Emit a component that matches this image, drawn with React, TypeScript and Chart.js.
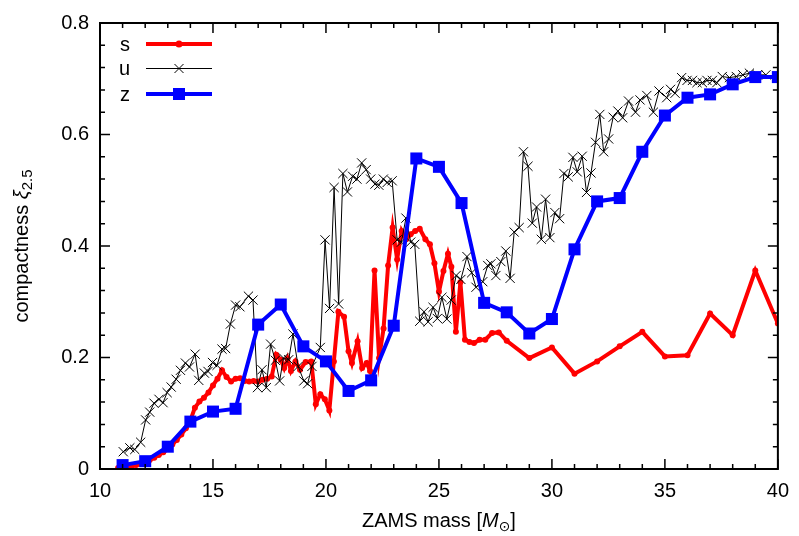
import React, { useEffect, useRef } from "react";
import { Chart, registerables } from "chart.js";

Chart.register(...registerables);

// ---------- data ----------
const sMass = [10.8, 11.0, 11.2, 11.4, 11.6, 11.8, 12.0, 12.2, 12.4, 12.6, 12.8, 13.0, 13.2, 13.4, 13.6, 13.8, 14.0, 14.2, 14.4, 14.6, 14.8, 15.0, 15.2, 15.4, 15.6, 15.8, 16.0, 16.2, 16.4, 16.6, 16.8, 17.0, 17.2, 17.4, 17.6, 17.8, 18.0, 18.15, 18.3, 18.45, 18.65, 18.85, 19.1, 19.35, 19.55, 19.75, 19.95, 20.15, 20.35, 20.55, 20.8, 21.0, 21.15, 21.4, 21.6, 21.8, 21.95, 22.15, 22.35, 22.55, 22.75, 22.95, 23.15, 23.35, 23.55, 23.75, 23.95, 24.15, 24.4, 24.6, 24.8, 25.0, 25.2, 25.4, 25.55, 25.75, 25.95, 26.15, 26.35, 26.55, 26.8, 27.05, 27.35, 27.65, 28, 29, 30, 31, 32, 33, 34, 35, 36, 37, 38, 39, 40];
const sXi = [0.002, 0.003, 0.004, 0.005, 0.007, 0.009, 0.012, 0.016, 0.02, 0.025, 0.03, 0.036, 0.044, 0.052, 0.062, 0.073, 0.087, 0.11, 0.121, 0.128, 0.137, 0.15, 0.162, 0.177, 0.165, 0.157, 0.162, 0.163, 0.158, 0.157, 0.158, 0.157, 0.16, 0.162, 0.166, 0.205, 0.196, 0.181, 0.198, 0.176, 0.193, 0.178, 0.192, 0.193, 0.116, 0.134, 0.125, 0.105, 0.193, 0.282, 0.273, 0.211, 0.19, 0.229, 0.181, 0.19, 0.176, 0.356, 0.199, 0.252, 0.365, 0.433, 0.376, 0.427, 0.412, 0.421, 0.427, 0.431, 0.412, 0.403, 0.369, 0.318, 0.355, 0.386, 0.363, 0.246, 0.335, 0.232, 0.228, 0.226, 0.232, 0.232, 0.244, 0.245, 0.23, 0.199, 0.218, 0.171, 0.193, 0.22, 0.246, 0.202, 0.204, 0.279, 0.24, 0.356, 0.261];

const uMass = [11.03, 11.32, 11.54, 11.8, 12.02, 12.2, 12.39, 12.61, 12.79, 12.97, 13.15, 13.37, 13.56, 13.78, 13.96, 14.21, 14.37, 14.62, 14.78, 14.98, 15.18, 15.4, 15.56, 15.77, 16.0, 16.19, 16.57, 16.77, 16.97, 17.17, 17.36, 17.55, 17.76, 17.95, 18.12, 18.35, 18.54, 18.77, 19.02, 19.19, 19.38, 19.75, 19.96, 20.16, 20.36, 20.56, 20.75, 20.95, 21.18, 21.37, 21.58, 21.78, 21.98, 22.17, 22.34, 22.54, 22.71, 22.93, 23.15, 23.34, 23.54, 23.75, 23.93, 24.15, 24.34, 24.52, 24.74, 24.93, 25.13, 25.35, 25.54, 25.76, 25.97, 26.24, 26.45, 26.64, 26.94, 27.16, 27.3, 27.52, 27.74, 27.96, 28.15, 28.33, 28.55, 28.74, 28.94, 29.13, 29.32, 29.53, 29.72, 29.91, 30.13, 30.34, 30.53, 30.72, 30.93, 31.12, 31.34, 31.53, 31.73, 31.93, 32.12, 32.29, 32.51, 32.71, 32.92, 33.13, 33.39, 33.7, 33.9, 34.2, 34.49, 34.74, 35.08, 35.25, 35.45, 35.74, 35.98, 36.22, 36.42, 36.66, 36.86, 37.1, 37.3, 37.54, 37.86, 38.16, 38.45, 38.74, 39.1, 39.47];
const uXi = [0.031, 0.038, 0.035, 0.048, 0.088, 0.102, 0.118, 0.125, 0.119, 0.137, 0.147, 0.161, 0.177, 0.19, 0.183, 0.206, 0.159, 0.172, 0.175, 0.191, 0.186, 0.215, 0.216, 0.26, 0.294, 0.291, 0.31, 0.303, 0.146, 0.178, 0.146, 0.224, 0.195, 0.158, 0.199, 0.196, 0.242, 0.184, 0.158, 0.153, 0.184, 0.218, 0.411, 0.288, 0.505, 0.296, 0.53, 0.497, 0.525, 0.52, 0.549, 0.537, 0.52, 0.511, 0.509, 0.52, 0.514, 0.517, 0.411, 0.407, 0.45, 0.407, 0.403, 0.265, 0.282, 0.264, 0.29, 0.27, 0.308, 0.269, 0.303, 0.347, 0.34, 0.381, 0.352, 0.326, 0.336, 0.365, 0.368, 0.347, 0.372, 0.391, 0.342, 0.425, 0.433, 0.569, 0.543, 0.441, 0.47, 0.412, 0.484, 0.415, 0.46, 0.449, 0.53, 0.524, 0.559, 0.533, 0.561, 0.496, 0.531, 0.586, 0.636, 0.569, 0.592, 0.631, 0.642, 0.63, 0.66, 0.64, 0.662, 0.67, 0.64, 0.678, 0.666, 0.681, 0.674, 0.702, 0.697, 0.697, 0.693, 0.693, 0.697, 0.697, 0.693, 0.704, 0.702, 0.704, 0.707, 0.71, 0.707, 0.707];

const zMass = [11, 12, 13, 14, 15, 16, 17, 18, 19, 20, 21, 22, 23, 24, 25, 26, 27, 28, 29, 30, 31, 32, 33, 34, 35, 36, 37, 38, 39, 40];
const zXi = [0.007, 0.014, 0.04, 0.085, 0.103, 0.108, 0.259, 0.295, 0.22, 0.193, 0.14, 0.159, 0.257, 0.557, 0.542, 0.477, 0.298, 0.281, 0.243, 0.269, 0.394, 0.48, 0.486, 0.569, 0.634, 0.666, 0.672, 0.69, 0.703, 0.703];

const seriesNames = ["s", "u", "z"];
const seriesColors = ["#ff0000", "#000000", "#0000ff"];
const xMajorTicks = [10, 15, 20, 25, 30, 35, 40];
const yMajorTicks = [0, 0.2, 0.4, 0.6, 0.8];
const xTitleParts = ["ZAMS mass [", "M", "\u2299", "]"];
const yTitleParts = ["compactness ", "\u03BE", "2.5"];

const FONT = "'Liberation Sans', Arial, Helvetica, sans-serif";
const FS = 20;

const toPoints = (xs: number[], ys: number[]) => xs.map((x, i) => ({ x, y: ys[i] }));

type Part = { text: string; font: string; dy: number };

function drawRich(ctx: CanvasRenderingContext2D, parts: Part[], cx: number, cy: number) {
  let total = 0;
  const widths = parts.map((p) => {
    ctx.font = p.font;
    const w = ctx.measureText(p.text).width;
    total += w;
    return w;
  });
  let x = cx - total / 2;
  ctx.textAlign = "left";
  ctx.textBaseline = "middle";
  parts.forEach((p, i) => {
    ctx.font = p.font;
    ctx.fillText(p.text, x, cy + p.dy);
    x += widths[i];
  });
}

const framePlugin = {
  id: "framePlugin",
  afterDatasetsDraw(chart: any) {
    const { ctx, chartArea, scales } = chart;
    const { left, right, top, bottom } = chartArea;
    const xs = scales.x;
    const ys = scales.y;
    ctx.save();
    ctx.strokeStyle = "#000";
    ctx.lineWidth = 1.5;
    ctx.beginPath();
    for (let v = 10; v <= 40; v += 1) {
      const px = xs.getPixelForValue(v);
      const L = v % 5 === 0 ? 10 : 5;
      ctx.moveTo(px, bottom);
      ctx.lineTo(px, bottom - L);
      ctx.moveTo(px, top);
      ctx.lineTo(px, top + L);
    }
    for (let i = 0; i <= 20; i++) {
      const py = ys.getPixelForValue(i * 0.04);
      const L = i % 5 === 0 ? 10 : 5;
      ctx.moveTo(left, py);
      ctx.lineTo(left + L, py);
      ctx.moveTo(right, py);
      ctx.lineTo(right - L, py);
    }
    ctx.stroke();
    ctx.lineWidth = 2;
    ctx.strokeRect(left, top, right - left, bottom - top);
    ctx.restore();
  },
  afterDraw(chart: any) {
    const { ctx, chartArea } = chart;
    const { left, right, top, bottom } = chartArea;
    ctx.save();
    ctx.fillStyle = "#000";
    // x title
    drawRich(
      ctx,
      [
        { text: xTitleParts[0], font: `${FS}px ${FONT}`, dy: 0 },
        { text: xTitleParts[1], font: `italic ${FS}px ${FONT}`, dy: 0 },
        { text: xTitleParts[2], font: `${FS - 6}px 'DejaVu Sans', ${FONT}`, dy: 6 },
        { text: xTitleParts[3], font: `${FS}px ${FONT}`, dy: 0 },
      ],
      (left + right) / 2,
      521
    );
    // y title
    ctx.save();
    ctx.translate(22, (top + bottom) / 2);
    ctx.rotate(-Math.PI / 2);
    drawRich(
      ctx,
      [
        { text: yTitleParts[0], font: `${FS}px ${FONT}`, dy: 0 },
        { text: yTitleParts[1], font: `italic ${FS}px ${FONT}`, dy: 0 },
        { text: yTitleParts[2], font: `${FS - 5}px ${FONT}`, dy: 6 },
      ],
      0,
      0
    );
    ctx.restore();

    // legend
    const rows = [top + 21, top + 45.5, top + 71];
    const textRight = left + 30;
    const x0 = left + 46;
    const x1 = left + 112;
    const xm = (x0 + x1) / 2;
    ctx.font = `${FS}px ${FONT}`;
    ctx.textAlign = "right";
    ctx.textBaseline = "middle";
    seriesNames.forEach((name, i) => {
      const y = rows[i];
      ctx.fillStyle = "#000";
      ctx.fillText(name, textRight, y + 1);
      ctx.strokeStyle = seriesColors[i];
      ctx.lineWidth = i === 1 ? 1 : 4;
      ctx.beginPath();
      ctx.moveTo(x0, y);
      ctx.lineTo(x1, y);
      ctx.stroke();
      if (i === 0) {
        ctx.fillStyle = seriesColors[0];
        ctx.beginPath();
        ctx.arc(xm, y, 3.5, 0, Math.PI * 2);
        ctx.fill();
      } else if (i === 1) {
        ctx.lineWidth = 1;
        ctx.beginPath();
        ctx.moveTo(xm - 4.5, y - 4.5);
        ctx.lineTo(xm + 4.5, y + 4.5);
        ctx.moveTo(xm - 4.5, y + 4.5);
        ctx.lineTo(xm + 4.5, y - 4.5);
        ctx.stroke();
      } else {
        ctx.fillStyle = seriesColors[2];
        ctx.fillRect(xm - 6, y - 6, 12, 12);
      }
    });
    ctx.restore();
  },
};

export default function App() {
  const ref = useRef<HTMLCanvasElement | null>(null);
  useEffect(() => {
    if (!ref.current) return;
    Chart.defaults.font.family = FONT;
    const chart = new Chart(ref.current, {
      type: "line",
      data: {
        datasets: [
          {
            label: seriesNames[0],
            data: toPoints(sMass, sXi),
            borderColor: seriesColors[0],
            backgroundColor: seriesColors[0],
            borderWidth: 4,
            pointRadius: 3,
            pointStyle: "circle",
            pointBorderWidth: 0,
            tension: 0,
            order: 3,
          },
          {
            label: seriesNames[1],
            data: toPoints(uMass, uXi),
            borderColor: seriesColors[1],
            backgroundColor: seriesColors[1],
            borderWidth: 1,
            pointRadius: 6.5,
            pointStyle: "crossRot",
            pointBorderWidth: 1,
            tension: 0,
            order: 2,
          },
          {
            label: seriesNames[2],
            data: toPoints(zMass, zXi),
            borderColor: seriesColors[2],
            backgroundColor: seriesColors[2],
            borderWidth: 4,
            pointRadius: 8.5,
            pointStyle: "rect",
            pointBorderWidth: 0,
            tension: 0,
            order: 1,
          },
        ],
      },
      options: {
        animation: false,
        responsive: false,
        devicePixelRatio: 1,
        layout: { padding: { left: 0, right: 19, top: 17, bottom: 0 } },
        plugins: { legend: { display: false }, tooltip: { enabled: false } },
        scales: {
          x: {
            type: "linear",
            min: 10,
            max: 40,
            afterFit: (s: any) => {
              s.height = 67;
            },
            afterBuildTicks: (s: any) => {
              s.ticks = xMajorTicks.map((v) => ({ value: v }));
            },
            ticks: {
              color: "#000",
              font: { size: FS, family: FONT },
              padding: 10,
              maxRotation: 0,
              autoSkip: false,
              callback: (v: any) => String(v),
            },
            grid: { display: false, drawTicks: false },
            border: { display: false },
          },
          y: {
            type: "linear",
            min: 0,
            max: 0.8,
            afterFit: (s: any) => {
              s.width = 100;
            },
            afterBuildTicks: (s: any) => {
              s.ticks = yMajorTicks.map((v) => ({ value: v }));
            },
            ticks: {
              color: "#000",
              font: { size: FS, family: FONT },
              padding: 11,
              autoSkip: false,
              callback: (v: any) => (Number(v) === 0 ? "0" : Number(v).toFixed(1)),
            },
            grid: { display: false, drawTicks: false },
            border: { display: false },
          },
        },
      },
      plugins: [framePlugin],
    } as any);
    return () => chart.destroy();
  }, []);
  return (
    <div style={{ position: "fixed", left: 0, top: 0, width: 799, height: 536, background: "#fff" }}>
      <canvas ref={ref} width={799} height={536} style={{ display: "block" }} />
    </div>
  );
}
